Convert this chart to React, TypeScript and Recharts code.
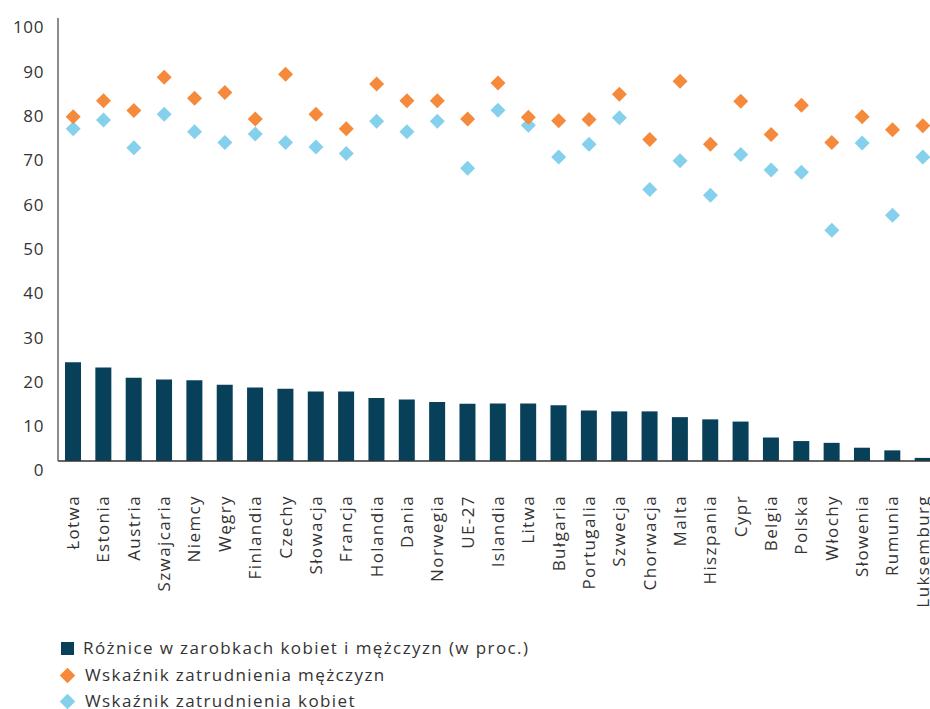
import React from "react";
import { ComposedChart, Bar, Scatter, XAxis, YAxis } from "recharts";

const countries = [
  "Łotwa", "Estonia", "Austria", "Szwajcaria", "Niemcy", "Węgry", "Finlandia",
  "Czechy", "Słowacja", "Francja", "Holandia", "Dania", "Norwegia", "UE-27",
  "Islandia", "Litwa", "Bułgaria", "Portugalia", "Szwecja", "Chorwacja", "Malta",
  "Hiszpania", "Cypr", "Belgia", "Polska", "Włochy", "Słowenia", "Rumunia",
  "Luksemburg",
];

// różnice w zarobkach (w proc.)
const payGap = [
  22.3, 21.1, 18.8, 18.4, 18.2, 17.2, 16.6, 16.3, 15.7, 15.7, 14.2, 13.9, 13.3,
  12.9, 13.0, 13.0, 12.6, 11.4, 11.2, 11.2, 9.9, 9.4, 8.9, 5.3, 4.5, 4.1, 3.0,
  2.4, 0.7,
];

const menEmployment = [
  77.7, 81.3, 79.1, 86.6, 81.9, 83.2, 77.2, 87.3, 78.3, 75.0, 85.1, 81.3, 81.3,
  77.2, 85.3, 77.6, 76.8, 77.1, 82.8, 72.6, 85.7, 71.5, 81.2, 73.7, 80.3, 71.9,
  77.7, 74.8, 75.7,
];

const womenEmployment = [
  75.0, 77.0, 70.7, 78.3, 74.3, 71.9, 73.8, 71.9, 70.9, 69.4, 76.7, 74.3, 76.7,
  66.1, 79.2, 75.8, 68.6, 71.5, 77.5, 61.3, 67.8, 60.0, 69.2, 65.7, 65.2, 52.1,
  71.8, 55.5, 68.6,
];

const yTicks = [0, 10, 20, 30, 40, 50, 60, 70, 80, 90, 100];

const seriesNames = [
  "Różnice w zarobkach kobiet i mężczyzn (w proc.)",
  "Wskaźnik zatrudnienia mężczyzn",
  "Wskaźnik zatrudnienia kobiet",
];

const BAR_COLOR = "#08405a";
const MEN_COLOR = "#f58a3c";
const WOMEN_COLOR = "#85d0ec";
const FONT = "'Open Sans', sans-serif";
const SPACING = 1.4;

const data = countries.map((name, i) => ({
  name,
  gap: payGap[i],
  men: menEmployment[i],
  women: womenEmployment[i],
}));

const diamond = (color: string) => (props: any) => {
  const { cx, cy } = props;
  const r = 7.5;
  return (
    <polygon
      points={`${cx},${cy - r} ${cx + r},${cy} ${cx},${cy + r} ${cx - r},${cy}`}
      fill={color}
    />
  );
};

// x arrives already shifted left by tick size + margin
const YTick = ({ x, y, payload }: any) => (
  <text
    x={x - 6}
    y={y + 9.5}
    dy="0.35em"
    textAnchor="end"
    fontSize={17}
    letterSpacing={0.6}
    fill="#333"
    fontFamily={FONT}
  >
    {payload.value}
  </text>
);

const XTick = ({ x, payload }: any) => (
  <text
    x={x}
    y={495}
    dy="0.35em"
    textAnchor="end"
    transform={`rotate(-90, ${x}, 495)`}
    fontSize={17}
    letterSpacing={SPACING}
    fill="#333"
    fontFamily={FONT}
  >
    {payload.value}
  </text>
);

function LegendRow({ color, shape, label, top }: any) {
  return (
    <div
      style={{
        position: "absolute",
        left: 60,
        top,
        height: 22,
        display: "flex",
        alignItems: "center",
        fontSize: 17,
        lineHeight: "22px",
        letterSpacing: SPACING,
        color: "#333",
        fontFamily: FONT,
        whiteSpace: "nowrap",
      }}
    >
      {shape === "square" ? (
        <span style={{ width: 13, height: 13, background: color, marginLeft: 1, marginRight: 9 }} />
      ) : (
        <span
          style={{
            width: 11,
            height: 11,
            background: color,
            transform: "rotate(45deg)",
            marginLeft: 2,
            marginRight: 12,
          }}
        />
      )}
      {label}
    </div>
  );
}

export default function App() {
  return (
    <div
      style={{
        position: "absolute",
        left: 0,
        top: 0,
        width: 930,
        height: 709,
        overflow: "hidden",
        background: "#fff",
        fontFamily: FONT,
      }}
    >
      <ComposedChart
        width={938}
        height={709}
        data={data}
        margin={{ top: 18, right: 0, left: 0, bottom: 0 }}
      >
        <XAxis
          dataKey="name"
          interval={0}
          height={248}
          tickLine={false}
          axisLine={{ stroke: "#333", strokeWidth: 1.5 }}
          tick={<XTick />}
        />
        <YAxis
          width={58}
          domain={[0, 100]}
          ticks={yTicks}
          tickLine={false}
          axisLine={{ stroke: "#666", strokeWidth: 1.5 }}
          tick={<YTick />}
        />
        <Bar dataKey="gap" fill={BAR_COLOR} barSize={16} isAnimationActive={false} />
        <Scatter dataKey="women" shape={diamond(WOMEN_COLOR)} isAnimationActive={false} />
        <Scatter dataKey="men" shape={diamond(MEN_COLOR)} isAnimationActive={false} />
      </ComposedChart>
      <LegendRow color={BAR_COLOR} shape="square" label={seriesNames[0]} top={637} />
      <LegendRow color={MEN_COLOR} shape="diamond" label={seriesNames[1]} top={664} />
      <LegendRow color={WOMEN_COLOR} shape="diamond" label={seriesNames[2]} top={690} />
    </div>
  );
}
